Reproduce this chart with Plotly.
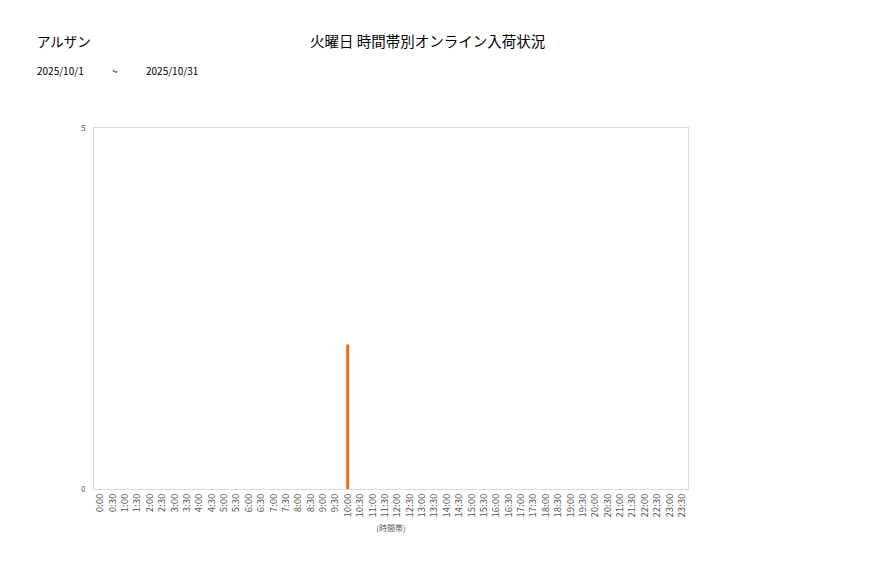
import plotly.graph_objects as go

# 時間帯 (30分刻み)
time_slots = [f"{h}:{m:02d}" for h in range(24) for m in (0, 30)]
# 入荷件数
counts = [0] * 48
counts[time_slots.index("10:00")] = 2

store_name = "アルザン"
chart_title = "火曜日 時間帯別オンライン入荷状況"
date_from = "2025/10/1"
date_to = "2025/10/31"

font_jp = "Noto Sans CJK JP"

fig = go.Figure()
fig.add_trace(go.Bar(x=time_slots, y=counts, marker_color="#F26A10",
                     marker_line_width=0))

# ページ本体の余白(8px)を見込んだマージン
fig.update_layout(
    width=877, height=578,
    margin=dict(l=86, r=197, t=120, b=97),
    paper_bgcolor="white", plot_bgcolor="white",
    font=dict(family=font_jp, color="#404040", size=8),
    bargap=0.76,
    showlegend=False,
)
fig.update_xaxes(
    type="category", tickangle=-90, tickfont=dict(size=9.5, color="#595959"),
    showline=True, linecolor="#D9D9D9", mirror=True, showgrid=False,
    ticks="", title=dict(text="(時間帯)", font=dict(size=8, color="#595959"), standoff=8),
)
fig.update_yaxes(
    range=[0, 5], tickvals=[0, 5], tickfont=dict(size=8, color="#595959"),
    showline=True, linecolor="#D9D9D9", mirror=True, showgrid=False,
    zeroline=False, ticks="", ticklabelstandoff=6,
)

fig.add_annotation(text=store_name, xref="paper", yref="paper", x=-0.1, y=1.242,
                   xanchor="left", yanchor="middle", showarrow=False,
                   font=dict(size=13.5, color="black", family=font_jp))
fig.add_annotation(text=chart_title, xref="paper", yref="paper", x=0.561, y=1.242,
                   xanchor="center", yanchor="middle", showarrow=False,
                   font=dict(size=14.5, color="black", family=font_jp))
fig.add_annotation(text=date_from, xref="paper", yref="paper", x=-0.1, y=1.16,
                   xanchor="left", yanchor="middle", showarrow=False,
                   font=dict(size=10, color="black", family=font_jp))
fig.add_annotation(text="~", xref="paper", yref="paper", x=0.035, y=1.16,
                   xanchor="center", yanchor="middle", showarrow=False,
                   font=dict(size=10, color="black", family=font_jp))
fig.add_annotation(text=date_to, xref="paper", yref="paper", x=0.085, y=1.16,
                   xanchor="left", yanchor="middle", showarrow=False,
                   font=dict(size=10, color="black", family=font_jp))

fig.write_html("out.html")
